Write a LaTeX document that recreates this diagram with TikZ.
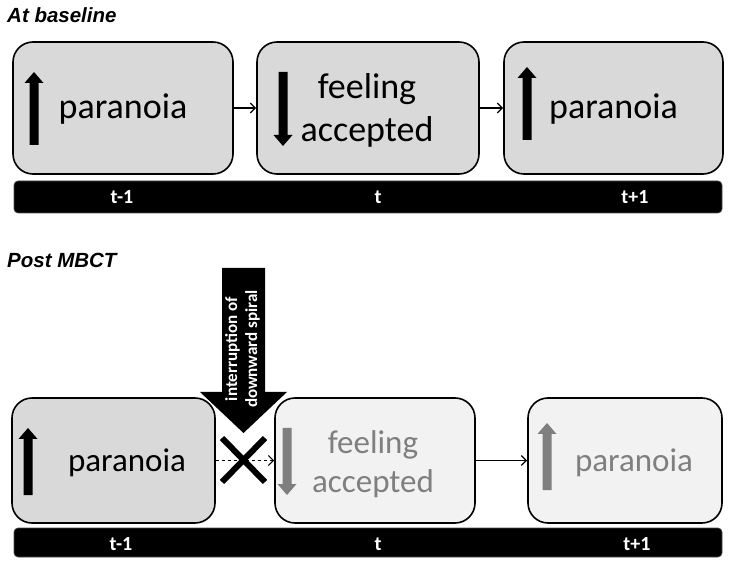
\documentclass[tikz,border=0pt]{standalone}
\usepackage{fontspec}
\setmainfont{Carlito}
\newfontfamily\titlefont{Liberation Sans}
\usetikzlibrary{arrows.meta}
\definecolor{boxgray}{RGB}{217,217,217}
\definecolor{boxlight}{RGB}{242,242,242}
\definecolor{fadegray}{RGB}{127,127,127}
\newcommand\blockup[4]{% x, tip y, bottom y, colour
  \fill[#4] (#1-4.5,#3) -- (#1-4.5,#2+11) -- (#1-9.5,#2+11) -- (#1,#2) -- (#1+9.5,#2+11) -- (#1+4.5,#2+11) -- (#1+4.5,#3) -- cycle;}
\newcommand\blockdown[4]{% x, top y, tip y, colour
  \fill[#4] (#1-4.5,#2) -- (#1-4.5,#3-11) -- (#1-9.5,#3-11) -- (#1,#3) -- (#1+9.5,#3-11) -- (#1+4.5,#3-11) -- (#1+4.5,#2) -- cycle;}
\tikzset{
  statebox/.style={draw=black, line width=1.6pt, rounded corners=20pt, inner sep=0pt},
  timebar/.style={fill=black, draw=black!70, line width=0.6pt, rounded corners=4pt, minimum width=708pt, inner sep=0pt},
  timelabel/.style={text=white, font=\bfseries\fontsize{20}{22}\selectfont, inner sep=0pt, anchor=base},
  bigtext/.style={font=\fontsize{36}{43}\selectfont, align=center, inner sep=0pt},
  smalltext/.style={font=\fontsize{33}{39}\selectfont, align=center, inner sep=0pt},
  flow/.style={line width=1.3pt, -{Straight Barb[length=5pt,width=10pt]}},
  heading/.style={font=\titlefont\bfseries\itshape\fontsize{20.5}{22}\selectfont, anchor=base west, inner sep=0pt},
}
\begin{document}
\begin{tikzpicture}[x=1pt, y=-1pt]
\useasboundingbox (0,0) rectangle (732,564);

% ---------- At baseline ----------
\node[heading] (h1) at (7,23) {At baseline};

\node[statebox, fill=boxgray, minimum width=220pt, minimum height=132pt] (b1) at (123,108) {};
\node[statebox, fill=boxgray, minimum width=222pt, minimum height=132pt] (b2) at (368,108) {};
\node[statebox, fill=boxgray, minimum width=219pt, minimum height=132pt] (b3) at (613.5,108) {};

\blockup{34}{72}{145}{black}
\blockdown{283}{72}{146}{black}
\blockup{527}{67}{140}{black}

\node[bigtext] (p1) at (123,109) {paranoia};
\node[bigtext] (f1) at (367,110) {feeling\\accepted};
\node[bigtext] (p2) at (613.5,109) {paranoia};

\draw[flow] (b1.east) -- (b2.west);
\draw[flow] (b2.east) -- (b3.west);

\node[timebar, minimum height=32pt] (tl1) at (368,197) {};
\node[timelabel] (t1a) at (122,204) {t-1};
\node[timelabel] (t1b) at (378,204) {t};
\node[timelabel] (t1c) at (635,204) {t+1};

% ---------- Post MBCT ----------
\node[heading] (h2) at (7,268) {Post MBCT};

\node[statebox, fill=boxgray, minimum width=203pt, minimum height=125pt] (b4) at (113.5,460.5) {};
\node[statebox, fill=boxlight, minimum width=200pt, minimum height=125pt] (b5) at (375,460.5) {};
\node[statebox, fill=boxlight, minimum width=194pt, minimum height=125pt] (b6) at (625,460.5) {};

\blockup{28}{428}{495}{black}
\blockdown{287}{428}{495}{fadegray}
\blockup{547}{423}{490}{fadegray}

\node[smalltext] (p3) at (127,463) {paranoia};
\node[smalltext, text=fadegray] (f2) at (373,464) {feeling\\accepted};
\node[smalltext, text=fadegray] (p4) at (634,463) {paranoia};

\draw[flow, dashed, line width=1.1pt] (b4.east) -- (b5.west);
\draw[flow] (b5.east) -- (b6.west);

% interruption arrow
\fill[black] (222,268) -- (265,268) -- (265,392) -- (287,392) -- (243.5,433) -- (200,392) -- (222,392) -- cycle;
\node[rotate=90, text=white, font=\bfseries\fontsize{17}{20}\selectfont, align=center, inner sep=0pt] (intr) at (242.5,349) {interruption of\\downward spiral};

% cross
\coordinate (xa) at (222,438);
\coordinate (xb) at (265,482);
\coordinate (xc) at (222,482);
\coordinate (xd) at (265,438);
\draw[line width=6pt] (xa) -- (xb);
\draw[line width=6pt] (xc) -- (xd);

\node[timebar, minimum height=29pt] (tl2) at (368,542.5) {};
\node[timelabel] (t2a) at (121,550) {t-1};
\node[timelabel] (t2b) at (378,550) {t};
\node[timelabel] (t2c) at (637,550) {t+1};
\end{tikzpicture}
\end{document}
